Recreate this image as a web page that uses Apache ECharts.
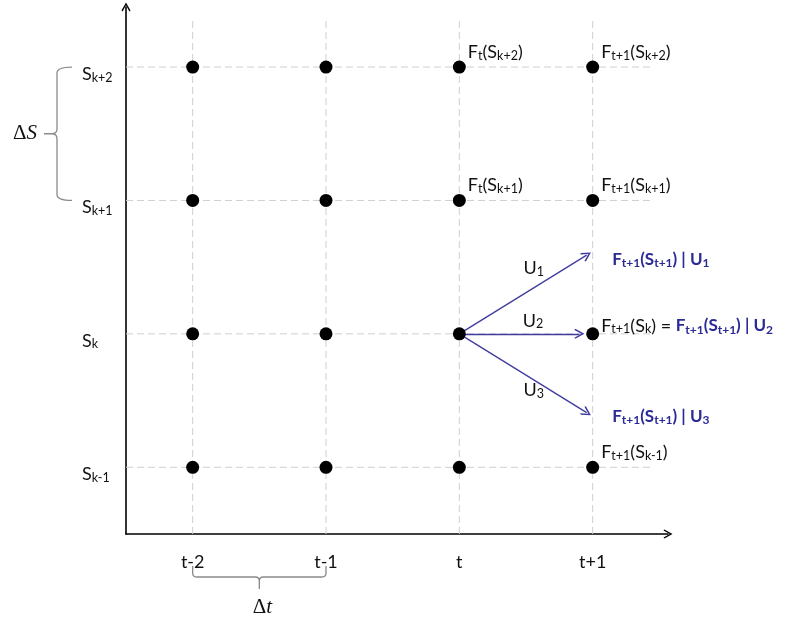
<!DOCTYPE html>
<html><head><meta charset="utf-8">
<script src="https://cdn.jsdelivr.net/npm/echarts@6/dist/echarts.min.js"></script>
<style>html,body{margin:0;padding:0;background:#fff}#c{width:792px;height:619px}</style>
</head><body><div id="c"></div>
<script>
// ---------- data ----------
const timeTicks  = ['t-2', 't-1', 't', 't+1'];                 // x = 1..4
const stateTicks = ['S_{k-1}', 'S_k', 'S_{k+1}', 'S_{k+2}'];   // y = 1..4
const nodes = [
  [1,1],[2,1],[3,1],[4,1],
  [1,2],[2,2],[3,2],[4,2],
  [1,3],[2,3],[3,3],[4,3],
  [1,4],[2,4],[3,4],[4,4]
];
const nodeLabelAt   = [[3,4],[4,4],[3,3],[4,3],[4,2],[4,1]];
const nodeLabelText = ['F_t(S_{k+2})','F_{t+1}(S_{k+2})','F_t(S_{k+1})','F_{t+1}(S_{k+1})',
                       'F_{t+1}(S_k) = *F_{t+1}(S_{t+1}) | U_2*','F_{t+1}(S_{k-1})'];
const arrowFrom   = [3, 2];
const arrowTo     = [[3.955, 2.59], [3.90, 2], [3.955, 1.41]];
const controls    = ['U_1', 'U_2', 'U_3'];
const outcomeText = ['*F_{t+1}(S_{t+1}) | U_1*', null, '*F_{t+1}(S_{t+1}) | U_3*'];
const gridLineEndX = 4.45;
const gridLineEndY = 4.345;
const deltaSSpan = [3, 4];
const deltaTSpan = [1, 2];

// ---------- styles ----------
const FONT = 'Lato';
const TXT = '#111111', BLUE = '#2b2b96', ARROW = '#3f3c9e', GRIDC = '#cfcfcf';
const RICH = {
  n:  {fontFamily: FONT, fontSize: 18, color: TXT, lineHeight: 20, verticalAlign: 'middle'},
  s:  {fontFamily: FONT, fontSize: 12.5, color: TXT, lineHeight: 10, verticalAlign: 'bottom'},
  b:  {fontFamily: FONT, fontSize: 17, color: BLUE, fontWeight: 'bold', lineHeight: 20, verticalAlign: 'middle'},
  bs: {fontFamily: FONT, fontSize: 12, color: BLUE, fontWeight: 'bold', lineHeight: 10, verticalAlign: 'bottom'}
};
const CHEVRON = 'path://M5,0 L10,9 L8.8,10 L5,3 L1.2,10 L0,9 Z';
const uLabelOffsets = [[0, -26], [3, -13], [0, 17]];

function toRich(str) {
  let out = '', bold = false, i = 0;
  const push = (txt, sub) => {
    if (!txt) return;
    const st = bold ? (sub ? 'bs' : 'b') : (sub ? 's' : 'n');
    out += '{' + st + '|' + txt + '}';
  };
  let buf = '';
  while (i < str.length) {
    const c = str[i];
    if (c === '*') { push(buf, false); buf = ''; bold = !bold; i++; continue; }
    if (c === '_') {
      push(buf, false); buf = '';
      if (str[i+1] === '{') {
        const j = str.indexOf('}', i+2);
        push(str.slice(i+2, j), true); i = j + 1;
      } else { push(str[i+1], true); i += 2; }
      continue;
    }
    buf += c; i++;
  }
  push(buf, false);
  return out;
}
const isInt = v => Math.abs(v - Math.round(v)) < 1e-6;

// ---------- series ----------
const series = [];
const dash = {type: 'line', silent: true, symbol: 'none', z: 1,
  lineStyle: {color: GRIDC, width: 1, type: [7, 4]}};
stateTicks.forEach((_, i) => series.push(Object.assign({}, dash, {data: [[0.5, i + 1], [gridLineEndX, i + 1]]})));
timeTicks.forEach((_, i) => series.push(Object.assign({}, dash, {data: [[i + 1, 0.5], [i + 1, gridLineEndY]]})));

// arrows
series.push({
  type: 'lines', coordinateSystem: 'cartesian2d', silent: true, z: 3,
  symbol: ['none', CHEVRON], symbolSize: [8, 10],
  lineStyle: {color: ARROW, width: 1.3, opacity: 1},
  data: arrowTo.map(t => ({coords: [arrowFrom, t]}))
});

// dots + labels
const labelKey = p => p[0] + ',' + p[1];
const labMap = {};
nodeLabelAt.forEach((p, i) => labMap[labelKey(p)] = nodeLabelText[i]);
series.push({
  type: 'scatter', symbolSize: 13, z: 5, silent: true,
  itemStyle: {color: '#000', opacity: 1},
  data: nodes.map(p => {
    const t = labMap[labelKey(p)];
    const d = {value: p};
    if (t) d.label = {show: true, position: 'right', distance: 2,
      offset: [0, (p[1] === 2 ? -8 : -15)], formatter: toRich(t), rich: RICH};
    return d;
  })
});

// outcome labels at arrow ends
series.push({
  type: 'scatter', symbolSize: 1, z: 4, silent: true, itemStyle: {color: 'rgba(0,0,0,0)', opacity: 1},
  data: arrowTo.map((t, i) => outcomeText[i] ? {value: t, label: {show: true, position: 'right',
    distance: 25, offset: [0, 4], formatter: toRich(outcomeText[i]), rich: RICH}} : {value: t})
});

// control labels at arrow midpoints
series.push({
  type: 'scatter', symbolSize: 1, z: 4, silent: true, itemStyle: {color: 'rgba(0,0,0,0)', opacity: 1},
  data: arrowTo.map((t, i) => ({
    value: [(arrowFrom[0] + t[0]) / 2, (arrowFrom[1] + t[1]) / 2],
    label: {show: true, position: 'right', distance: 0, offset: uLabelOffsets[i],
      formatter: toRich(controls[i]), rich: RICH}
  }))
});

// braces
const BRACE = '#8a8a8a';
series.push({
  type: 'custom', silent: true, z: 2,
  data: [[deltaSSpan[0], deltaSSpan[1]]],
  renderItem: (params, api) => {
    const a = api.coord([0.5, api.value(0)]), b = api.coord([0.5, api.value(1)]);
    const y2 = a[1], y1 = b[1], ym = (y1 + y2) / 2;
    const bx = a[0] - 69, hx = a[0] - 54;
    const d = `M${hx},${y1} Q${bx},${y1} ${bx},${y1+6} L${bx},${ym-5} Q${bx},${ym} ${bx-5},${ym} L${bx-13},${ym} ` +
      `M${bx-5},${ym} Q${bx},${ym} ${bx},${ym+5} L${bx},${y2-6} Q${bx},${y2} ${hx},${y2}`;
    return {type: 'group', children: [
      {type: 'path', shape: {pathData: d}, style: {stroke: BRACE, lineWidth: 1.3, fill: null}},
      {type: 'text', style: {text: '{d|Δ}{i|S}', x: bx - 20, y: ym, align: 'right', verticalAlign: 'middle',
        rich: {d: {fontFamily: 'Liberation Serif', fontSize: 21, fill: '#111'},
               i: {fontFamily: 'Liberation Serif', fontSize: 21, fontStyle: 'italic', fill: '#111'}}}}
    ]};
  }
});
series.push({
  type: 'custom', silent: true, z: 2,
  data: [[deltaTSpan[0], deltaTSpan[1]]],
  renderItem: (params, api) => {
    const a = api.coord([api.value(0), 0.5]), b = api.coord([api.value(1), 0.5]);
    const x1 = a[0], x2 = b[0], xm = (x1 + x2) / 2, ay = a[1];
    const ey = ay + 32, ly = ay + 43, ty = ay + 55;
    const d = `M${x1},${ey} L${x1},${ly-4} Q${x1},${ly} ${x1+4},${ly} L${xm-4},${ly} Q${xm},${ly} ${xm},${ly+4} L${xm},${ty} ` +
      `M${xm},${ly+4} Q${xm},${ly} ${xm+4},${ly} L${x2-4},${ly} Q${x2},${ly} ${x2},${ly-4} L${x2},${ey}`;
    return {type: 'group', children: [
      {type: 'path', shape: {pathData: d}, style: {stroke: BRACE, lineWidth: 1.3, fill: null}},
      {type: 'text', style: {text: '{d|Δ}{i|t}', x: xm + 3, y: ay + 73, align: 'center', verticalAlign: 'middle',
        rich: {d: {fontFamily: 'Liberation Serif', fontSize: 21, fill: '#111'},
               i: {fontFamily: 'Liberation Serif', fontSize: 21, fontStyle: 'italic', fill: '#111'}}}}
    ]};
  }
});

const chart = echarts.init(document.getElementById('c'), null, {renderer: 'canvas'});
chart.setOption({
  animation: false,
  backgroundColor: '#fff',
  grid: {left: 126, right: 124, top: 7, bottom: 85, containLabel: false},
  xAxis: {
    type: 'value', min: 0.5, max: 4.565, interval: 0.5,
    axisLine: {onZero: false, symbol: ['none', CHEVRON], symbolSize: [9, 10], lineStyle: {color: '#000', width: 1.6}},
    axisTick: {show: false}, splitLine: {show: false},
    axisLabel: {margin: 18, showMaxLabel: false, formatter: v => isInt(v) && timeTicks[Math.round(v) - 1] ? toRich(timeTicks[Math.round(v) - 1]) : '', rich: RICH}
  },
  yAxis: {
    type: 'value', min: 0.5, max: 4.45, interval: 0.5,
    axisLine: {onZero: false, symbol: ['none', CHEVRON], symbolSize: [9, 10], lineStyle: {color: '#000', width: 1.6}},
    axisTick: {show: false}, splitLine: {show: false},
    axisLabel: {margin: 44, align: 'left', padding: [14, 0, 0, 0], showMaxLabel: false,
      formatter: v => isInt(v) && stateTicks[Math.round(v) - 1] ? toRich(stateTicks[Math.round(v) - 1]) : '', rich: RICH}
  },
  series: series
});
</script></body></html>
